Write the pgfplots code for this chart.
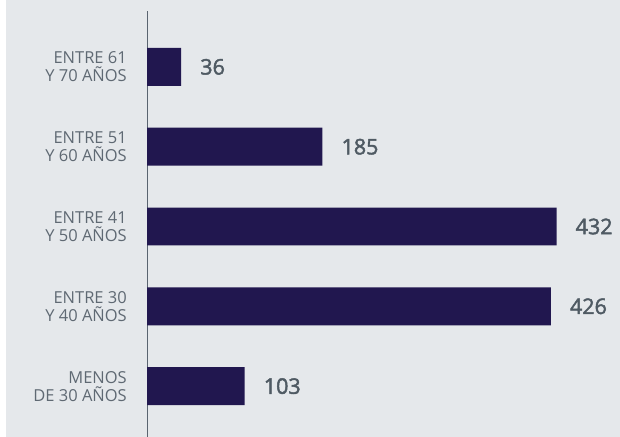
\documentclass[border=0pt]{standalone}
\usepackage{pgfplots}
\pgfplotsset{compat=1.18}
\usepackage{fontspec}
\setmainfont{Open Sans}
\newfontfamily\numfont{Open Sans}[FakeBold=2]

\definecolor{bgcol}{HTML}{E5E8EB}
\definecolor{barcol}{HTML}{21174F}
\definecolor{labcol}{HTML}{5F6973}
\definecolor{numcol}{HTML}{4F5A63}
\definecolor{axcol}{HTML}{5A6470}

\begin{document}
\begin{tikzpicture}
  \useasboundingbox (0,0) rectangle (620bp,437bp);
  \fill[bgcol] (0,0) rectangle (620bp,437bp);
  \fill[white] (0,0) rectangle (6bp,437bp);
  \begin{axis}[
    at={(147bp,0bp)}, anchor=south west,
    scale only axis,
    width=473bp, height=426bp,
    xbar,
    xmin=0, xmax=499,
    ymin=-0.6375, ymax=4.7,
    bar width=0.475,
    axis x line=none,
    axis y line*=left,
    y axis line style={draw=axcol, line width=0.8pt, -},
    ytick={0,1,2,3,4},
    yticklabels={{MENOS\\DE 30 AÑOS},{ENTRE 30\\Y 40 AÑOS},{ENTRE 41\\Y 50 AÑOS},{ENTRE 51\\Y 60 AÑOS},{ENTRE 61\\Y 70 AÑOS}},
    major tick length=0pt,
    yticklabel style={align=right, inner sep=0pt, xshift=-20bp, text=labcol,
      font=\fontsize{16.5bp}{18bp}\selectfont},
    nodes near coords,
    nodes near coords style={anchor=west, inner sep=0pt, xshift=19bp, text=numcol,
      font=\numfont\fontsize{21.5bp}{24bp}\selectfont},
    every node near coord/.append style={/pgf/number format/assume math mode=true},
  ]
    \addplot[fill=barcol, draw=none] coordinates {
      (103,0) (426,1) (432,2) (185,3) (36,4)
    };
  \end{axis}
\end{tikzpicture}
\end{document}
